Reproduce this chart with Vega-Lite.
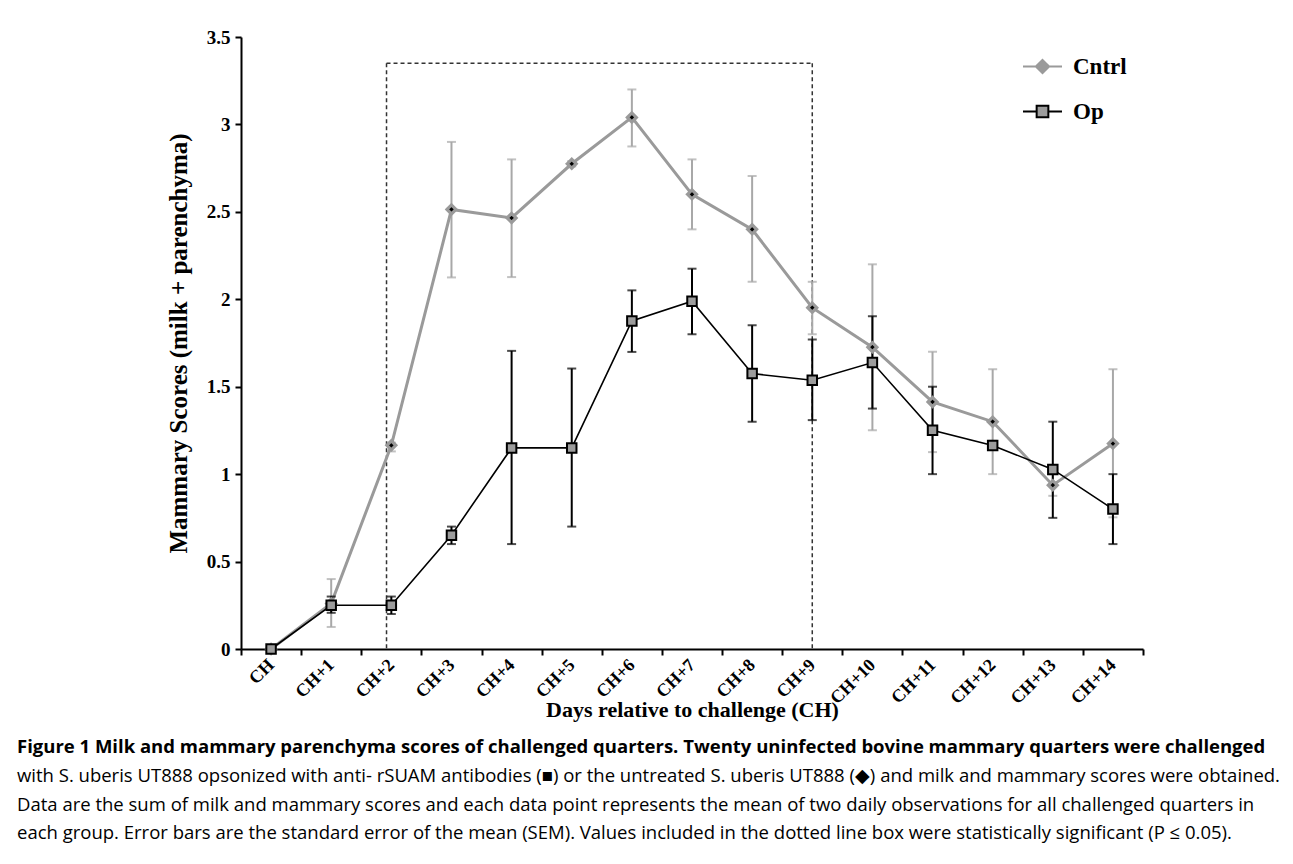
{
  "$schema": "https://vega.github.io/schema/vega-lite/v6.json",
  "width": 902,
  "height": 612,
  "autosize": {"type": "none"},
  "padding": {"left": 241, "top": 37, "right": 150, "bottom": 215},
  "background": "white",
  "config": {"view": {"stroke": null}, "font": "Liberation Serif"},
  "title": {
    "text": ["Figure 1  Milk and mammary parenchyma scores of challenged quarters. Twenty uninfected bovine mammary quarters were challenged"],
    "subtitle": [
      "with S. uberis UT888 opsonized with anti- rSUAM antibodies (■) or the untreated S. uberis UT888 (◆) and milk and mammary scores were obtained.",
      "Data are the sum of milk and mammary scores and each data point represents the mean of two daily observations for all challenged quarters in",
      "each group. Error bars are the standard error of the mean (SEM). Values included in the dotted line box were statistically significant (P ≤ 0.05)."
    ],
    "orient": "bottom",
    "anchor": "start",
    "frame": "group",
    "dx": -224,
    "offset": 18,
    "font": "Open Sans",
    "fontSize": 18.5,
    "fontWeight": "bold",
    "color": "black",
    "subtitleFont": "Open Sans",
    "subtitleFontSize": 18.5,
    "subtitleColor": "black",
    "subtitleLineHeight": 28.6,
    "subtitlePadding": 10
  },
  "datasets": {
    "scores": [
      {"day": "CH", "group": "Cntrl", "mean": 0, "lo": null, "hi": null},
      {"day": "CH+1", "group": "Cntrl", "mean": 0.26, "lo": 0.126, "hi": 0.40},
      {"day": "CH+2", "group": "Cntrl", "mean": 1.165, "lo": 1.13, "hi": 1.18},
      {"day": "CH+3", "group": "Cntrl", "mean": 2.514, "lo": 2.125, "hi": 2.90},
      {"day": "CH+4", "group": "Cntrl", "mean": 2.465, "lo": 2.127, "hi": 2.80},
      {"day": "CH+5", "group": "Cntrl", "mean": 2.775, "lo": 2.76, "hi": 2.79},
      {"day": "CH+6", "group": "Cntrl", "mean": 3.04, "lo": 2.874, "hi": 3.20},
      {"day": "CH+7", "group": "Cntrl", "mean": 2.60, "lo": 2.40, "hi": 2.80},
      {"day": "CH+8", "group": "Cntrl", "mean": 2.40, "lo": 2.10, "hi": 2.705},
      {"day": "CH+9", "group": "Cntrl", "mean": 1.952, "lo": 1.80, "hi": 2.10},
      {"day": "CH+10", "group": "Cntrl", "mean": 1.726, "lo": 1.251, "hi": 2.20},
      {"day": "CH+11", "group": "Cntrl", "mean": 1.413, "lo": 1.126, "hi": 1.70},
      {"day": "CH+12", "group": "Cntrl", "mean": 1.30, "lo": 1.00, "hi": 1.60},
      {"day": "CH+13", "group": "Cntrl", "mean": 0.937, "lo": 0.876, "hi": 1.00},
      {"day": "CH+14", "group": "Cntrl", "mean": 1.175, "lo": 0.753, "hi": 1.60},
      {"day": "CH", "group": "Op", "mean": 0, "lo": null, "hi": null},
      {"day": "CH+1", "group": "Op", "mean": 0.25, "lo": 0.207, "hi": 0.30},
      {"day": "CH+2", "group": "Op", "mean": 0.25, "lo": 0.20, "hi": 0.30},
      {"day": "CH+3", "group": "Op", "mean": 0.651, "lo": 0.60, "hi": 0.70},
      {"day": "CH+4", "group": "Op", "mean": 1.15, "lo": 0.60, "hi": 1.705},
      {"day": "CH+5", "group": "Op", "mean": 1.15, "lo": 0.70, "hi": 1.604},
      {"day": "CH+6", "group": "Op", "mean": 1.876, "lo": 1.699, "hi": 2.051},
      {"day": "CH+7", "group": "Op", "mean": 1.989, "lo": 1.80, "hi": 2.175},
      {"day": "CH+8", "group": "Op", "mean": 1.575, "lo": 1.30, "hi": 1.851},
      {"day": "CH+9", "group": "Op", "mean": 1.537, "lo": 1.309, "hi": 1.77},
      {"day": "CH+10", "group": "Op", "mean": 1.638, "lo": 1.375, "hi": 1.903},
      {"day": "CH+11", "group": "Op", "mean": 1.251, "lo": 1.00, "hi": 1.50},
      {"day": "CH+12", "group": "Op", "mean": 1.164, "lo": 1.14, "hi": 1.19},
      {"day": "CH+13", "group": "Op", "mean": 1.027, "lo": 0.75, "hi": 1.30},
      {"day": "CH+14", "group": "Op", "mean": 0.80, "lo": 0.60, "hi": 1.00}
    ],
    "box": [{"start": "CH+2", "end": "CH+9", "top": 3.35, "bottom": 0}]
  },
  "layer": [
    {
      "data": {"name": "box"},
      "mark": {"type": "rule", "stroke": "#333333", "strokeWidth": 1.5, "strokeDash": [4, 3]},
      "encoding": {
        "x": {"field": "start", "type": "ordinal", "bandPosition": 0.42,
          "scale": {"type": "band", "domain": ["CH","CH+1","CH+2","CH+3","CH+4","CH+5","CH+6","CH+7","CH+8","CH+9","CH+10","CH+11","CH+12","CH+13","CH+14"], "paddingInner": 0, "paddingOuter": 0},
          "axis": {
            "title": "Days  relative to challenge (CH)",
            "tickBand": "extent",
            "labelAngle": -45,
            "labelAlign": "right",
            "labelBaseline": "middle",
            "labelFont": "Liberation Serif",
            "labelFontWeight": "bold",
            "labelFontSize": 18,
            "labelColor": "black",
            "labelPadding": 7,
            "tickSize": 6,
            "tickColor": "black",
            "tickWidth": 2,
            "domainColor": "black",
            "domainWidth": 2,
            "titleFont": "Liberation Serif",
            "titleFontSize": 22,
            "titleFontWeight": "bold",
            "titleColor": "black",
            "titlePadding": -8,
            "grid": false
          }
        },
        "y": {"field": "top", "type": "quantitative",
          "scale": {"domain": [0, 3.5], "nice": false, "zero": true},
          "axis": {
            "title": "Mammary Scores (milk + parenchyma)",
            "values": [0, 0.5, 1, 1.5, 2, 2.5, 3, 3.5],
            "format": "~g",
            "labelFont": "Liberation Serif",
            "labelFontWeight": "bold",
            "labelFontSize": 19,
            "labelColor": "black",
            "labelPadding": 5,
            "tickSize": 6,
            "tickColor": "black",
            "tickWidth": 2,
            "domainColor": "black",
            "domainWidth": 2,
            "titleFont": "Liberation Serif",
            "titleFontSize": 25,
            "titleFontWeight": "bold",
            "titleColor": "black",
            "titlePadding": 15,
            "grid": false
          }
        },
        "y2": {"field": "bottom"}
      }
    },
    {
      "data": {"name": "box"},
      "mark": {"type": "rule", "stroke": "#333333", "strokeWidth": 1.5, "strokeDash": [4, 3]},
      "encoding": {
        "x": {"field": "end", "type": "ordinal", "scale": {"type": "band"}},
        "y": {"field": "top", "type": "quantitative"},
        "y2": {"field": "bottom"}
      }
    },
    {
      "data": {"name": "box"},
      "mark": {"type": "rule", "stroke": "#333333", "strokeWidth": 1.5, "strokeDash": [4, 3]},
      "encoding": {
        "x": {"field": "start", "type": "ordinal", "bandPosition": 0.42, "scale": {"type": "band"}},
        "x2": {"field": "end"},
        "y": {"field": "top", "type": "quantitative"}
      }
    },
    {
      "data": {"name": "scores"},
      "transform": [{"filter": "datum.group === 'Cntrl' && datum.lo != null"}],
      "mark": {"type": "rule", "stroke": "#a8a8a8", "strokeWidth": 2},
      "encoding": {
        "x": {"field": "day", "type": "ordinal", "scale": {"type": "band"}},
        "y": {"field": "lo", "type": "quantitative"},
        "y2": {"field": "hi"}
      }
    },
    {
      "data": {"name": "scores"},
      "transform": [{"filter": "datum.group === 'Cntrl' && datum.lo != null"}, {"fold": ["lo", "hi"], "as": ["end", "val"]}],
      "mark": {"type": "tick", "color": "#a8a8a8", "size": 9, "thickness": 2, "orient": "horizontal"},
      "encoding": {
        "x": {"field": "day", "type": "ordinal", "scale": {"type": "band"}},
        "y": {"field": "val", "type": "quantitative"}
      }
    },
    {
      "data": {"name": "scores"},
      "transform": [{"filter": "datum.group === 'Cntrl'"}],
      "mark": {"type": "line", "stroke": "#9a9a9a", "strokeWidth": 3},
      "encoding": {
        "x": {"field": "day", "type": "ordinal", "scale": {"type": "band"}},
        "y": {"field": "mean", "type": "quantitative"}
      }
    },
    {
      "data": {"name": "scores"},
      "transform": [{"filter": "datum.group === 'Op' && datum.lo != null"}],
      "mark": {"type": "rule", "stroke": "black", "strokeWidth": 2},
      "encoding": {
        "x": {"field": "day", "type": "ordinal", "scale": {"type": "band"}},
        "y": {"field": "lo", "type": "quantitative"},
        "y2": {"field": "hi"}
      }
    },
    {
      "data": {"name": "scores"},
      "transform": [{"filter": "datum.group === 'Op' && datum.lo != null"}, {"fold": ["lo", "hi"], "as": ["end", "val"]}],
      "mark": {"type": "tick", "color": "black", "size": 9, "thickness": 2, "orient": "horizontal"},
      "encoding": {
        "x": {"field": "day", "type": "ordinal", "scale": {"type": "band"}},
        "y": {"field": "val", "type": "quantitative"}
      }
    },
    {
      "data": {"name": "scores"},
      "transform": [{"filter": "datum.group === 'Op'"}],
      "mark": {"type": "line", "stroke": "black", "strokeWidth": 1.6},
      "encoding": {
        "x": {"field": "day", "type": "ordinal", "scale": {"type": "band"}},
        "y": {"field": "mean", "type": "quantitative"}
      }
    },
    {
      "data": {"name": "scores"},
      "transform": [{"filter": "datum.group === 'Cntrl'"}],
      "mark": {"type": "point", "shape": "diamond", "size": 80, "filled": true, "fill": "black", "stroke": "#9a9a9a", "strokeWidth": 3.2, "opacity": 1},
      "encoding": {
        "x": {"field": "day", "type": "ordinal", "scale": {"type": "band"}},
        "y": {"field": "mean", "type": "quantitative"}
      }
    },
    {
      "data": {"name": "scores"},
      "transform": [{"filter": "datum.group === 'Op'"}],
      "mark": {"type": "point", "shape": "square", "size": 90, "filled": true, "fill": "#9c9c9c", "stroke": "black", "strokeWidth": 2, "opacity": 1},
      "encoding": {
        "x": {"field": "day", "type": "ordinal", "scale": {"type": "band"}},
        "y": {"field": "mean", "type": "quantitative"}
      }
    },
    {
      "data": {"name": "scores"},
      "transform": [{"filter": "false"}],
      "mark": {"type": "point", "opacity": 1, "strokeWidth": 2},
      "encoding": {
        "shape": {"field": "group", "type": "nominal",
          "scale": {"domain": ["Cntrl", "Op"], "range": ["M-1,0H1M0,-0.34L0.34,0L0,0.34L-0.34,0Z", "M-1,0H-0.3M0.3,0H1M-0.3,-0.3H0.3V0.3H-0.3Z"]},
          "legend": {"orient": "none", "legendX": 781, "legendY": 9, "title": null, "padding": 0, "labelFont": "Liberation Serif", "labelFontSize": 23, "labelFontWeight": "bold", "labelColor": "black", "labelOffset": 10, "rowPadding": 12, "symbolSize": 1521, "symbolStrokeWidth": 2}},
        "stroke": {"field": "group", "type": "nominal",
          "scale": {"domain": ["Cntrl", "Op"], "range": ["#9a9a9a", "#000000"]},
          "legend": {"orient": "none", "legendX": 781, "legendY": 9, "title": null, "padding": 0, "labelFont": "Liberation Serif", "labelFontSize": 23, "labelFontWeight": "bold", "labelColor": "black", "labelOffset": 10, "rowPadding": 12, "symbolSize": 1521, "symbolStrokeWidth": 2}},
        "fill": {"field": "group", "type": "nominal",
          "scale": {"domain": ["Cntrl", "Op"], "range": ["#9a9a9a", "#9c9c9c"]},
          "legend": {"orient": "none", "legendX": 781, "legendY": 9, "title": null, "padding": 0, "labelFont": "Liberation Serif", "labelFontSize": 23, "labelFontWeight": "bold", "labelColor": "black", "labelOffset": 10, "rowPadding": 12, "symbolSize": 1521, "symbolStrokeWidth": 2}}
      }
    }
  ]
}
